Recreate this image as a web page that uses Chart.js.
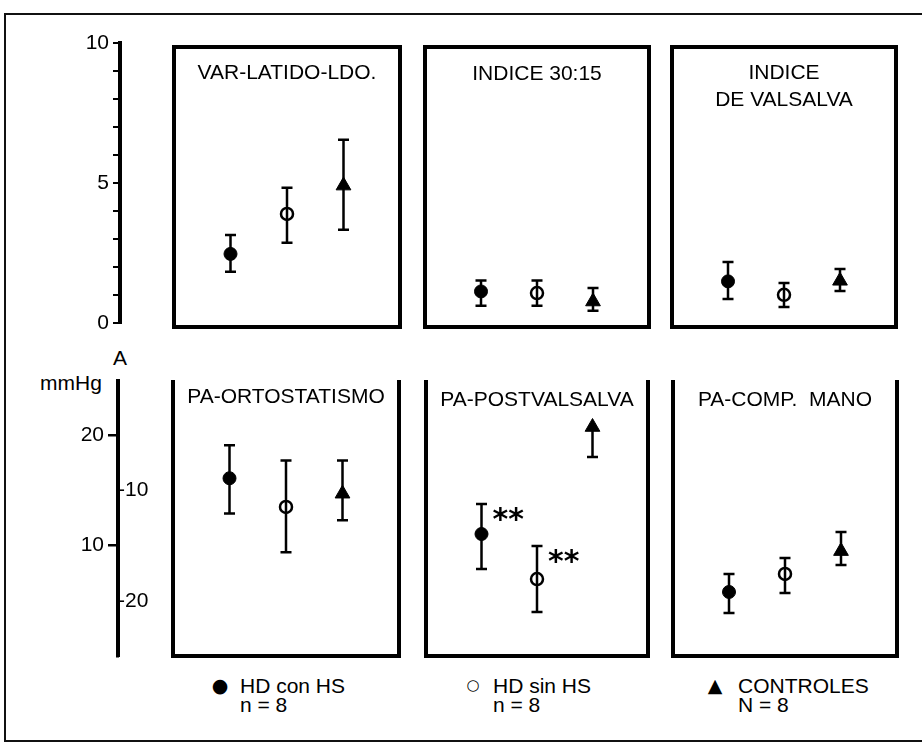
<!DOCTYPE html>
<html><head><meta charset="utf-8">
<script src="https://cdn.jsdelivr.net/npm/chart.js@4/dist/chart.umd.min.js"></script>
<style>
html,body{margin:0;padding:0;background:#fff;}
body{width:922px;height:742px;position:relative;overflow:hidden;font-family:"Liberation Sans",Arial,sans-serif;color:#000;}
canvas{position:absolute;}
.txt{position:absolute;font-size:21px;line-height:21px;white-space:nowrap;}
.sym{position:absolute;width:30px;height:30px;display:flex;align-items:center;justify-content:center;font-family:"DejaVu Sans",sans-serif;line-height:1;}
#frame{position:absolute;left:4px;top:13px;width:1000px;height:725px;border-left:2px solid #111;border-top:2px solid #111;border-bottom:2px solid #111;border-right:none;}
</style></head><body>
<div id="frame"></div>
<div class="txt" style="left:113px;top:347px;">A</div>
<div class="txt" style="left:40px;top:372px;">mmHg</div>
<div id="legend"></div>
<script>
// ---------- DATA ----------
const groups = ['HD con HS', 'HD sin HS', 'CONTROLES'];
const groupN = ['n = 8', 'n = 8', 'N = 8'];
const xPos = [1, 2, 3];

const titles = [['VAR-LATIDO-LDO.'], ['INDICE 30:15'], ['INDICE', 'DE VALSALVA'],
                ['PA-ORTOSTATISMO'], ['PA-POSTVALSALVA'], ['PA-COMP.  MANO']];

const varLatidoMean = [2.46, 3.89, 4.9];
const varLatidoLow  = [1.82, 2.86, 3.32];
const varLatidoHigh = [3.14, 4.82, 6.54];

const indice3015Mean = [1.12, 1.06, 0.76];
const indice3015Low  = [0.61, 0.61, 0.43];
const indice3015High = [1.51, 1.51, 1.24];

const valsalvaMean = [1.48, 1.0, 1.5];
const valsalvaLow  = [0.85, 0.56, 1.14];
const valsalvaHigh = [2.17, 1.42, 1.92];

const ortoMean = [-8.9, -11.5, -10.3];
const ortoLow  = [-12.1, -15.6, -12.7];
const ortoHigh = [-5.9, -7.3, -7.3];

const postValMean = [11.05, 6.97, 20.74];
const postValLow  = [7.88, 3.99, 18.03];
const postValHigh = [13.77, 9.96, 20.74];
const postValSig  = ['**', '**', ''];

const manoMean = [5.8, 7.43, 9.5];
const manoLow  = [3.9, 5.71, 8.24];
const manoHigh = [7.43, 8.88, 11.23];

const topAxisTicks  = [0, 1, 2, 3, 4, 5, 6, 7, 8, 9, 10];
const topAxisLabels = [0, 5, 10];
const mmHgTicks  = [10, 20];
const innerTicks = [-10, -20];

// ---------- STYLE / LAYOUT ----------
const FONT = '"Liberation Sans", Arial, sans-serif';
Chart.defaults.font.family = FONT;
Chart.defaults.color = '#000';
const PAD = 10;

function makeCanvas(left, top, w, h) {
  const c = document.createElement('canvas');
  c.width = w; c.height = h;
  c.style.left = left + 'px'; c.style.top = top + 'px';
  c.style.width = w + 'px'; c.style.height = h + 'px';
  document.body.appendChild(c);
  return c;
}

function panelPlugin(cfg) {
  return {
    id: 'panel' + cfg.idx,
    afterDatasetsDraw(chart) {
      const ctx = chart.ctx;
      const ys = chart.scales.y;
      const meta = chart.getDatasetMeta(0);
      ctx.save();
      ctx.strokeStyle = '#000';
      ctx.lineWidth = 2.5;
      meta.data.forEach((pt, k) => {
        const x = pt.x;
        const yHi = ys.getPixelForValue(cfg.hi[k]);
        const yLo = ys.getPixelForValue(cfg.lo[k]);
        ctx.beginPath();
        ctx.moveTo(x, yHi); ctx.lineTo(x, yLo);
        if (cfg.hi[k] > cfg.mean[k]) { ctx.moveTo(x - 5.5, yHi); ctx.lineTo(x + 5.5, yHi); }
        if (cfg.lo[k] < cfg.mean[k]) { ctx.moveTo(x - 5.5, yLo); ctx.lineTo(x + 5.5, yLo); }
        ctx.stroke();
        if (cfg.sig && cfg.sig[k]) {
          ctx.fillStyle = '#000';
          ctx.font = 'bold 30px "DejaVu Sans", sans-serif';
          ctx.textAlign = 'left';
          ctx.textBaseline = 'alphabetic';
          ctx.fillText(cfg.sig[k], x + 11, yHi + 25);
        }
      });
      ctx.restore();
    },
    afterDraw(chart) {
      const ctx = chart.ctx;
      const a = chart.chartArea;
      ctx.save();
      ctx.strokeStyle = '#000';
      ctx.lineWidth = 4;
      ctx.lineJoin = 'miter';
      ctx.beginPath();
      if (cfg.closed) {
        ctx.rect(a.left, a.top, a.right - a.left, a.bottom - a.top);
      } else {
        ctx.moveTo(a.left, a.top); ctx.lineTo(a.left, a.bottom);
        ctx.lineTo(a.right, a.bottom); ctx.lineTo(a.right, a.top);
      }
      ctx.stroke();
      ctx.fillStyle = '#000';
      ctx.font = '21px ' + FONT;
      ctx.textAlign = 'center';
      ctx.textBaseline = 'middle';
      const cx = (a.left + a.right) / 2;
      cfg.title.forEach((line, j) => ctx.fillText(line, cx, a.top + cfg.titleOffset + j * 27));
      ctx.restore();
    }
  };
}

function makePanel(cfg) {
  const c = makeCanvas(cfg.left - PAD, cfg.top - PAD, cfg.w + 2 * PAD, cfg.h + 2 * PAD);
  new Chart(c, {
    type: 'scatter',
    data: {
      datasets: [{
        label: cfg.title.join(' '),
        data: cfg.mean.map((v, k) => ({ x: xPos[k], y: v })),
        pointStyle: ['circle', 'circle', 'triangle'],
        pointRadius: [6.5, 6, 8.5],
        pointBackgroundColor: ['#000', '#fff', '#000'],
        pointBorderColor: '#000',
        pointBorderWidth: [1, 2.5, 1],
        showLine: false
      }]
    },
    options: {
      responsive: false, animation: false, events: [],
      layout: { padding: PAD },
      scales: {
        x: { type: 'linear', min: 0, max: 4, display: false },
        y: { type: 'linear', min: cfg.ymin, max: cfg.ymax, display: false }
      },
      plugins: { legend: { display: false }, tooltip: { enabled: false } }
    },
    plugins: [panelPlugin(cfg)]
  });
}

// top row (scale 0..10)
makePanel({ idx: 1, left: 174, top: 47, w: 226, h: 280, ymin: -0.15, ymax: 9.85, closed: true, titleOffset: 26,
  title: titles[0], mean: varLatidoMean, lo: varLatidoLow, hi: varLatidoHigh });
makePanel({ idx: 2, left: 425, top: 47, w: 224, h: 280, ymin: -0.15, ymax: 9.85, closed: true, titleOffset: 27,
  title: titles[1], mean: indice3015Mean, lo: indice3015Low, hi: indice3015High });
makePanel({ idx: 3, left: 672, top: 47, w: 224, h: 280, ymin: -0.15, ymax: 9.85, closed: true, titleOffset: 26,
  title: titles[2], mean: valsalvaMean, lo: valsalvaLow, hi: valsalvaHigh });
// bottom row (mmHg)
makePanel({ idx: 4, left: 173, top: 380, w: 226, h: 276, ymin: -25, ymax: 0, closed: false, titleOffset: 17,
  title: titles[3], mean: ortoMean, lo: ortoLow, hi: ortoHigh });
makePanel({ idx: 5, left: 426, top: 380, w: 222, h: 276, ymin: 0, ymax: 25, closed: false, titleOffset: 20,
  title: titles[4], mean: postValMean, lo: postValLow, hi: postValHigh, sig: postValSig });
makePanel({ idx: 6, left: 673, top: 380, w: 224, h: 276, ymin: 0, ymax: 25, closed: false, titleOffset: 20,
  title: titles[5], mean: manoMean, lo: manoLow, hi: manoHigh });

// top axis 0..10
(function () {
  const c = makeCanvas(60, 23, 64, 320);
  new Chart(c, {
    type: 'scatter', data: { datasets: [] },
    options: {
      responsive: false, animation: false, events: [],
      layout: { padding: { top: 20, bottom: 20, left: 0, right: 0 } },
      scales: {
        x: { type: 'linear', min: 0, max: 1, display: false },
        y: {
          type: 'linear', position: 'left', min: 0, max: 10,
          afterFit: s => { s.width = 60; },
          afterBuildTicks: s => { s.ticks = topAxisTicks.map(v => ({ value: v })); },
          ticks: { autoSkip: false, padding: 4, font: { size: 21 }, color: '#000',
                   callback: v => topAxisLabels.includes(v) ? String(v) : '' },
          grid: { drawOnChartArea: false, drawTicks: true, tickLength: 7, color: '#000', lineWidth: 2 },
          border: { display: true, color: '#000', width: 4 }
        }
      },
      plugins: { legend: { display: false }, tooltip: { enabled: false } }
    }
  });
})();

// bottom axis: outer mmHg (left) and inner negative scale (right)
(function () {
  const c = makeCanvas(57, 360, 121, 316);
  new Chart(c, {
    type: 'scatter', data: { datasets: [] },
    options: {
      responsive: false, animation: false, events: [],
      layout: { padding: { top: 20, bottom: 20, left: 0, right: 0 } },
      scales: {
        x: { type: 'linear', min: 0, max: 1, display: false },
        y: {
          type: 'linear', position: 'left', min: 0, max: 25,
          afterFit: s => { s.width = 60; },
          afterBuildTicks: s => { s.ticks = mmHgTicks.map(v => ({ value: v })); },
          ticks: { autoSkip: false, padding: 4, font: { size: 21 }, color: '#000' },
          grid: { drawOnChartArea: false, drawTicks: true, tickLength: 9, color: '#000', lineWidth: 2.5 },
          border: { display: true, color: '#000', width: 3 }
        },
        y2: {
          type: 'linear', position: 'right', min: -25, max: 0,
          afterFit: s => { s.width = 60; },
          afterBuildTicks: s => { s.ticks = innerTicks.map(v => ({ value: v })); },
          ticks: { autoSkip: false, padding: 0, font: { size: 21 }, color: '#000' },
          grid: { drawOnChartArea: false, drawTicks: false, color: '#000' },
          border: { display: true, color: '#000', width: 3 }
        }
      },
      plugins: { legend: { display: false }, tooltip: { enabled: false } }
    }
  });
})();

// legend
(function () {
  const lg = document.getElementById('legend');
  const symbols = ['\u25CF', '\u25CB', '\u25B2'];
  const symSize = [19, 15, 19];
  const symX = [220, 473, 715];
  const textX = [240, 493, 738];
  groups.forEach((g, k) => {
    const s = document.createElement('div');
    s.className = 'sym';
    s.style.left = (symX[k] - 15) + 'px';
    s.style.top = (685 - 15) + 'px';
    s.style.fontSize = symSize[k] + 'px';
    s.textContent = symbols[k];
    lg.appendChild(s);
    const t1 = document.createElement('div');
    t1.className = 'txt';
    t1.style.left = textX[k] + 'px'; t1.style.top = '675px';
    t1.textContent = g;
    lg.appendChild(t1);
    const t2 = document.createElement('div');
    t2.className = 'txt';
    t2.style.left = textX[k] + 'px'; t2.style.top = '694px';
    t2.textContent = groupN[k];
    lg.appendChild(t2);
  });
})();
</script>
</body></html>
